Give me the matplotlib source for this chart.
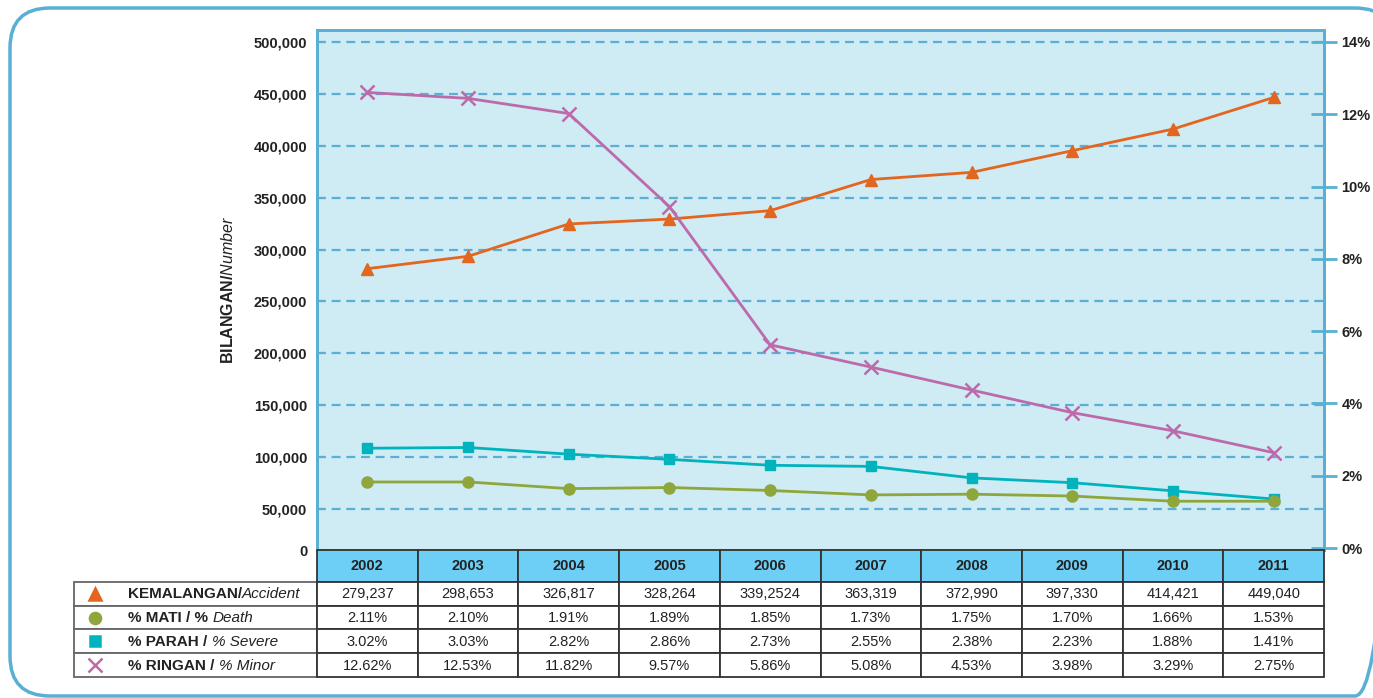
import numpy as np
import matplotlib.pyplot as plt
from matplotlib.patches import FancyBboxPatch, Rectangle

plt.rcParams['font.family'] = 'Liberation Sans'
plt.rcParams['mathtext.fontset'] = 'custom'
plt.rcParams['mathtext.rm'] = 'Liberation Sans'
plt.rcParams['mathtext.bf'] = 'Liberation Sans:bold'
plt.rcParams['mathtext.it'] = 'Liberation Sans:italic'

# table data
years = ['2002', '2003', '2004', '2005', '2006', '2007', '2008', '2009', '2010', '2011']
accident_txt = ['279,237', '298,653', '326,817', '328,264', '339,2524',
                '363,319', '372,990', '397,330', '414,421', '449,040']
death = [2.11, 2.10, 1.91, 1.89, 1.85, 1.73, 1.75, 1.70, 1.66, 1.53]
severe = [3.02, 3.03, 2.82, 2.86, 2.73, 2.55, 2.38, 2.23, 1.88, 1.41]
minor = [12.62, 12.53, 11.82, 9.57, 5.86, 5.08, 4.53, 3.98, 3.29, 2.75]

# values as drawn in the chart
accident_plot = [281600, 293500, 324700, 329400, 337500, 367500, 374400, 395300, 416100, 446600]
death_plot = [2.13, 2.13, 1.95, 1.98, 1.90, 1.78, 1.80, 1.75, 1.61, 1.61]
severe_plot = [3.04, 3.06, 2.88, 2.74, 2.58, 2.55, 2.24, 2.11, 1.89, 1.67]
minor_plot = [12.64, 12.48, 12.07, 9.56, 5.83, 5.23, 4.61, 4.00, 3.51, 2.92]

left_ticks = [50000, 100000, 150000, 200000, 250000, 300000, 350000, 400000, 450000, 500000]
right_ticks = [0, 2, 4, 6, 8, 10, 12, 14]

c_acc = '#E2661F'
c_death = '#8FA63C'
c_sev = '#00B3BC'
c_min = '#BD6AAA'
blue = '#5AAFD4'
txt = '#222222'

W, H = 1373, 698
fig = plt.figure(figsize=(W / 100, H / 100), dpi=100)

ax = fig.add_axes([317 / W, 1 - 550 / H, 1007 / W, 520 / H])
ax.set_facecolor('#CFEBF4')
x = np.arange(len(years))
ax.set_xlim(-0.5, 9.5)
ybot, ytop = 10500, 511600
ax.set_ylim(ybot, ytop)

ax.hlines(left_ticks, -0.5, 9.5, colors=blue, linewidth=1.6, linestyles=(0, (4, 2.6)), zorder=1)

# percentages are drawn on the number scale (14% = 500,000)
scale = 500000 / 14
ax.plot(x, accident_plot, color=c_acc, lw=2, marker='^', ms=9, zorder=3)
ax.plot(x, np.array(severe_plot) * scale, color=c_sev, lw=2, marker='s', ms=7, zorder=3)
ax.plot(x, np.array(death_plot) * scale, color=c_death, lw=2, marker='o', ms=8, zorder=3)
ax.plot(x, np.array(minor_plot) * scale, color=c_min, lw=2, marker='x', ms=10, mew=1.8, zorder=3)

ax.set_xticks([])
ax.set_yticks([ybot] + left_ticks)
ax.set_yticklabels(['0'] + [f'{v:,}' for v in left_ticks], fontsize=10.5, fontweight='bold', color=txt)
ax.tick_params(axis='y', direction='in', length=6, width=1.5, color=blue, pad=7)
ax.set_ylabel(r'$\bf{BILANGAN/}$$\it{Number}$', fontsize=11.5, labelpad=13, color=txt)
for s in ax.spines.values():
    s.set_color(blue)
    s.set_linewidth(2)

ax2 = ax.twinx()
ax2.set_ylim(-0.055, 14.33)
ax2.set_yticks(right_ticks)
ax2.set_yticklabels([f'{v}%' for v in right_ticks], fontsize=10.5, fontweight='bold', color=txt)
ax2.tick_params(axis='y', direction='inout', length=19, width=2, color=blue, pad=3)
for s in ax2.spines.values():
    s.set_color(blue)
    s.set_linewidth(2)

# overlay in pixel coords: frame + data table
ov = fig.add_axes([0, 0, 1, 1], zorder=5)
ov.set_xlim(0, W)
ov.set_ylim(H, 0)
ov.axis('off')

# rounded frame, right side runs off the picture
frame = FancyBboxPatch((10, 8), 1385, 688, boxstyle='round,pad=0,rounding_size=40',
                       fill=False, edgecolor=blue, linewidth=2.5)
ov.add_patch(frame)

col_edges = 317 + np.arange(11) * 100.7
row_edges = [550, 582, 606, 629, 653, 677]
dark = '#333333'

for i, yr in enumerate(years):
    x0, x1 = col_edges[i], col_edges[i + 1]
    ov.add_patch(Rectangle((x0, row_edges[0]), x1 - x0, row_edges[1] - row_edges[0],
                           facecolor='#6DCFF6', edgecolor=dark, lw=1.3))
    ov.text((x0 + x1) / 2, (row_edges[0] + row_edges[1]) / 2, yr, ha='center', va='center',
            fontsize=10.5, fontweight='bold', color=txt)

rows = [
    ('KEMALANGAN/', 'Accident', accident_txt, c_acc, '^', 9),
    ('% MATI / % ', 'Death', [f'{v:.2f}%' for v in death], c_death, 'o', 8),
    ('% PARAH / ', '% Severe', [f'{v:.2f}%' for v in severe], c_sev, 's', 7),
    ('% RINGAN / ', '% Minor', [f'{v:.2f}%' for v in minor], c_min, 'x', 10),
]
for r, (lab_b, lab_i, vals, col, mk, ms) in enumerate(rows):
    y0, y1 = row_edges[r + 1], row_edges[r + 2]
    yc = (y0 + y1) / 2
    ov.add_patch(Rectangle((74, y0), 317 - 74, y1 - y0, facecolor='white', edgecolor='#666666', lw=1.3))
    ov.plot([95], [yc], marker=mk, color=col, ms=ms, mew=1.8, ls='none')
    t1 = ov.text(128, yc + 0.5, lab_b, ha='left', va='center', fontsize=11, fontweight='bold', color=txt)
    ov.annotate(lab_i, xy=(1, 0), xycoords=t1, ha='left', va='bottom', fontsize=11,
                style='italic', color=txt)
    for i, v in enumerate(vals):
        x0, x1 = col_edges[i], col_edges[i + 1]
        ov.add_patch(Rectangle((x0, y0), x1 - x0, y1 - y0, facecolor='white', edgecolor=dark, lw=1.3))
        ov.text((x0 + x1) / 2, yc + 0.5, v, ha='center', va='center', fontsize=10.5, color=txt)

fig.savefig('out.png', dpi=100, facecolor='white')
